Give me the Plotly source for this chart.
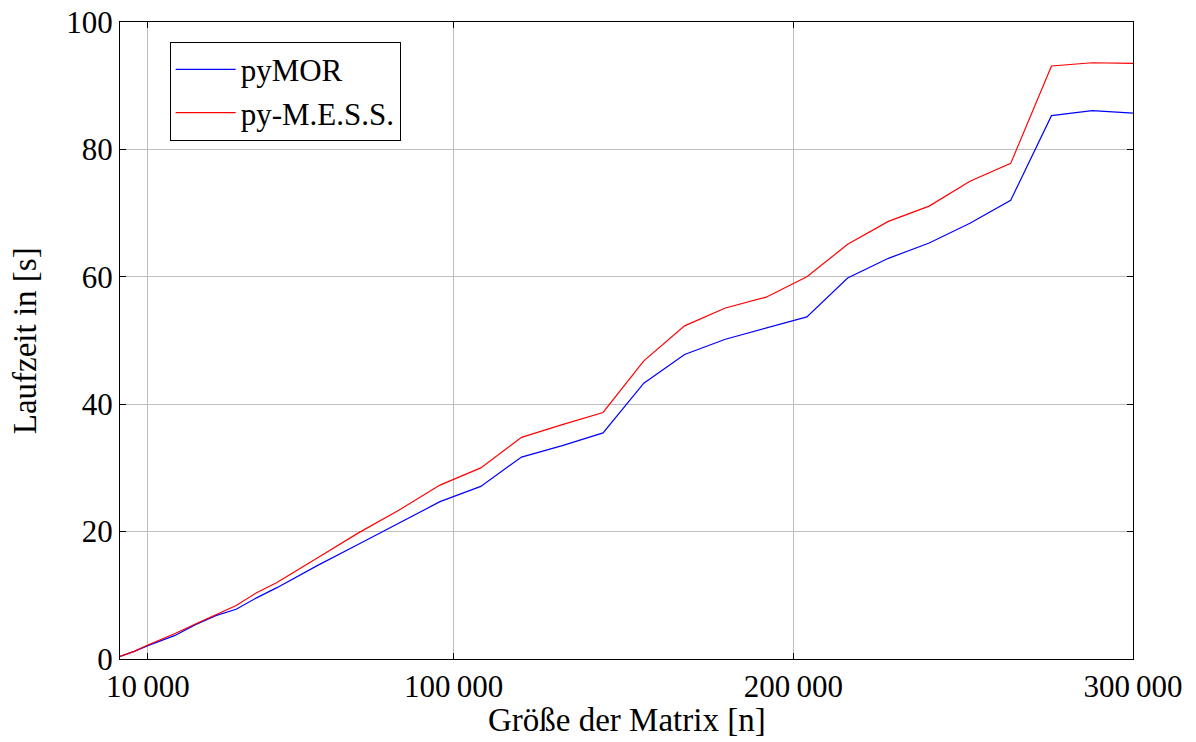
import plotly.graph_objects as go

matrix_size = [1800, 6000, 10000, 18000, 24000, 30000, 36000, 42000, 48000, 60000, 72000,
               84000, 96000, 108000, 120000, 132000, 144000, 156000, 168000, 180000,
               192000, 204000, 216000, 228000, 240000, 252000, 264000, 276000, 288000, 300000]
pymor = [0.4, 1.2, 2.1, 3.7, 5.4, 6.8, 7.8, 9.6, 11.2, 14.7, 18.0,
         21.4, 24.7, 27.1, 31.7, 33.5, 35.5, 43.3, 47.8, 50.2,
         52.0, 53.7, 59.8, 62.9, 65.3, 68.4, 72.0, 85.3, 86.1, 85.7]
pymess = [0.4, 1.2, 2.2, 4.0, 5.5, 7.0, 8.4, 10.4, 12.0, 15.9, 19.8,
          23.4, 27.3, 30.0, 34.8, 36.8, 38.7, 46.8, 52.3, 55.1,
          56.8, 60.0, 65.1, 68.7, 71.1, 75.0, 77.8, 93.1, 93.6, 93.5]
x_ticks = [10000, 100000, 200000, 300000]
x_tick_labels = ["10\u2009000", "100\u2009000", "200\u2009000", "300\u2009000"]
y_ticks = [0, 20, 40, 60, 80, 100]

FONT = "Liberation Serif"
FS = 31

fig = go.Figure()
fig.add_trace(go.Scatter(x=matrix_size, y=pymor, mode="lines", name="pyMOR",
                         line=dict(color="#0000ff", width=1.2)))
fig.add_trace(go.Scatter(x=matrix_size, y=pymess, mode="lines", name="py-M.E.S.S.",
                         line=dict(color="#ff0000", width=1.2)))

axis_common = dict(showgrid=True, gridcolor="#bdbdbd", gridwidth=1,
                   showline=True, linecolor="black", linewidth=1.3, mirror="ticks",
                   ticks="inside", ticklen=6, tickcolor="black", zeroline=False,
                   automargin=False, ticklabeloverflow="allow",
                   tickfont=dict(family=FONT, size=FS, color="black"))

fig.update_xaxes(range=[matrix_size[0], matrix_size[-1]], tickvals=x_ticks, ticktext=x_tick_labels,
                 **axis_common)
fig.update_yaxes(range=[0, 100], tickvals=y_ticks, **axis_common)

fig.add_annotation(text="Größe der Matrix [n]", xref="paper", yref="paper",
                   x=0.5, y=-0.096, xanchor="center", yanchor="middle", showarrow=False,
                   font=dict(family=FONT, size=33, color="black"))
fig.add_annotation(text="Laufzeit in [s]", xref="paper", yref="paper", textangle=-90,
                   x=-0.094, y=0.5, xanchor="center", yanchor="middle", showarrow=False,
                   font=dict(family=FONT, size=33, color="black"))

fig.update_layout(
    width=1188, height=734,
    margin=dict(l=112, r=63, t=14, b=83, autoexpand=False),
    plot_bgcolor="white", paper_bgcolor="white",
    font=dict(family=FONT, size=FS, color="black"),
    legend=dict(x=0.049, y=0.969, xanchor="left", yanchor="top",
                bgcolor="white", bordercolor="black", borderwidth=1,
                font=dict(family=FONT, size=FS, color="black"),
                itemwidth=60, tracegroupgap=0),
    showlegend=True,
)

fig.write_html("out.html")
